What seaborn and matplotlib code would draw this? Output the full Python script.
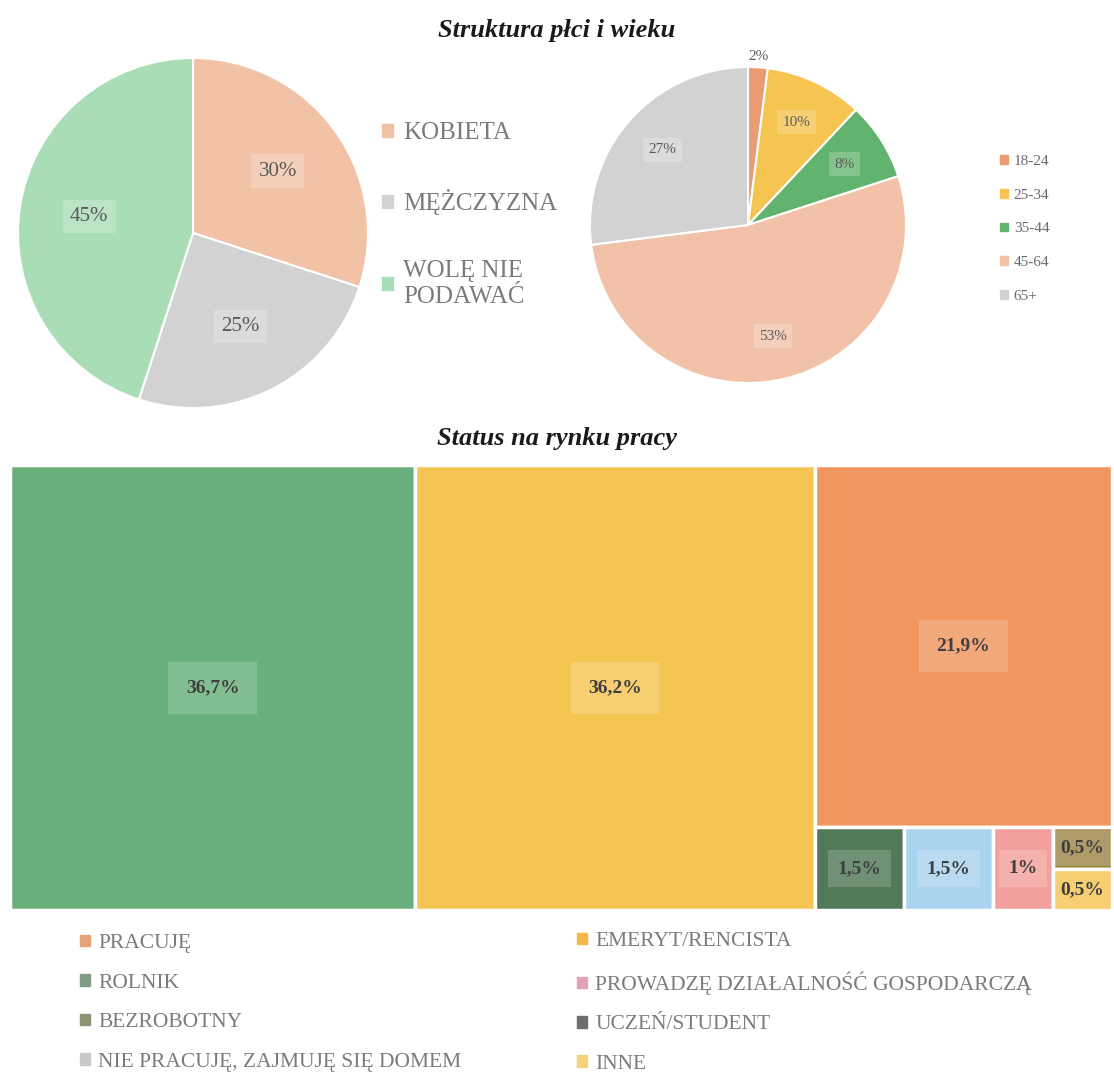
"""
plot.py
Struktura płci i wieku (two pies) + Status na rynku pracy (treemap).
"""

import matplotlib
matplotlib.use('Agg')
import matplotlib.pyplot as plt
from matplotlib.patches import Patch
import seaborn as sns

# --- data ---------------------------------------------------------------
gender_labels = ["KOBIETA", "MĘŻCZYZNA", "WOLĘ NIE\nPODAWAĆ"]
gender_values = [30, 25, 45]
gender_colors = ["#F2C2A6", "#D2D2D2", "#A9DDB6"]

age_labels = ["18-24", "25-34", "35-44", "45-64", "65+"]
age_values = [2, 10, 8, 53, 27]
age_colors = ["#EC9A72", "#F6C450", "#62B36E", "#F1C2A8", "#D2D2D2"]

status_values = [36.7, 36.2, 21.9, 1.5, 1.5, 1, 0.5, 0.5]
status_text = ["36,7%", "36,2%", "21,9%", "1,5%", "1,5%", "1%", "0,5%", "0,5%"]
status_colors = ["#68B07B", "#F6C453", "#F1965F", "#527A5A",
                 "#AAD3EF", "#F2A09C", "#9C8747", "#F6C453"]

legend_col1 = ["PRACUJĘ", "ROLNIK", "BEZROBOTNY", "NIE PRACUJĘ, ZAJMUJĘ SIĘ DOMEM"]
legend_col1_colors = ["#E3A47A", "#7E9C84", "#8C9274", "#C9C9C9"]
legend_col2 = ["EMERYT/RENCISTA", "PROWADZĘ DZIAŁALNOŚĆ GOSPODARCZĄ",
               "UCZEŃ/STUDENT", "INNE"]
legend_col2_colors = ["#F3B845", "#E2A2B9", "#6E6E6E", "#F2D27A"]

# --- style --------------------------------------------------------------
sns.set_theme(style="white")
plt.rcParams['font.family'] = ['Liberation Serif', 'DejaVu Serif']

W, H = 1114, 1076
fig = plt.figure(figsize=(W / 100, H / 100), dpi=100)
fig.patch.set_facecolor("white")


def px_axes(x0, y0, x1, y1):
    return fig.add_axes([x0 / W, 1 - y1 / H, (x1 - x0) / W, (y1 - y0) / H])


def fx(x):
    return x / W


def fy(y):
    return 1 - y / H


TEXT_GRAY = "#7b7b7b"
LABEL_BOX = dict(facecolor="white", alpha=0.22, edgecolor="none", boxstyle="square,pad=0.35")

fig.text(fx(557), fy(30), "Struktura płci i wieku", ha="center", va="center",
         fontsize=19, fontweight="bold", fontstyle="italic", color="#1a1a1a")
fig.text(fx(557), fy(438), "Status na rynku pracy", ha="center", va="center",
         fontsize=19, fontweight="bold", fontstyle="italic", color="#1a1a1a")

# --- gender pie ---------------------------------------------------------
ax1 = px_axes(18, 58, 368, 408)
wedges, _, autotexts = ax1.pie(
    gender_values, colors=gender_colors, startangle=90, counterclock=False,
    autopct="%1.0f%%", pctdistance=0.6,
    wedgeprops=dict(edgecolor="white", linewidth=1.5),
    textprops=dict(fontsize=15, color="#5a5a5a"))
for t, v in zip(autotexts, gender_values):
    t.set_text(f"{v}%")
    t.set_bbox(LABEL_BOX)
ax1.set_xlim(-1, 1)
ax1.set_ylim(-1, 1)

fig.legend([Patch(color=c) for c in gender_colors], gender_labels,
           loc="center left", bbox_to_anchor=(fx(382), fy(215)),
           frameon=False, fontsize=18, labelcolor=TEXT_GRAY,
           handlelength=0.45, handleheight=0.45, handletextpad=0.4,
           labelspacing=1.8, borderpad=0, borderaxespad=0)

# --- age pie ------------------------------------------------------------
ax2 = px_axes(590, 67, 906, 383)
wedges2, _, autotexts2 = ax2.pie(
    age_values, colors=age_colors, startangle=90, counterclock=False,
    autopct="%1.0f%%", pctdistance=0.72,
    wedgeprops=dict(edgecolor="white", linewidth=1.5),
    textprops=dict(fontsize=11, color="#5a5a5a"))
for t, v in zip(autotexts2, age_values):
    t.set_text(f"{v}%")
    t.set_bbox(LABEL_BOX)
# smallest slice label sits just outside the pie
x, y = autotexts2[0].get_position()
autotexts2[0].set_position((x * 1.48, y * 1.48))
autotexts2[0].set_bbox(None)
ax2.set_xlim(-1, 1)
ax2.set_ylim(-1, 1)

fig.legend([Patch(color=c) for c in age_colors], age_labels,
           loc="center left", bbox_to_anchor=(fx(1000), fy(229)),
           frameon=False, fontsize=11, labelcolor="#6a6a6a",
           handlelength=0.5, handleheight=0.5, handletextpad=0.4,
           labelspacing=1.35, borderpad=0, borderaxespad=0)


# --- treemap (squarified layout) ----------------------------------------
def worst(row, w):
    s = sum(row)
    return max(max(w * w * r / (s * s), (s * s) / (w * w * r)) for r in row)


def squarify(areas, x, y, dx, dy):
    rects = []
    areas = list(areas)
    while areas:
        w = min(dx, dy)
        row = [areas.pop(0)]
        while areas and worst(row + [areas[0]], w) <= worst(row, w):
            row.append(areas.pop(0))
        s = sum(row)
        if dx >= dy:          # column on the left
            cw = s / dy
            cy = y
            for r in row:
                rects.append((x, cy, cw, r / cw))
                cy += r / cw
            x += cw
            dx -= cw
        else:                 # row on the top
            rh = s / dx
            cx = x
            for r in row:
                rects.append((cx, y, r / rh, rh))
                cx += r / rh
            y += rh
            dy -= rh
    return rects


TW, TH = 1102.0, 445.0
total = sum(status_values)
areas = [v / total * TW * TH for v in status_values]
rects = squarify(areas, 0, 0, TW, TH)

ax3 = px_axes(10, 465, 10 + TW, 465 + TH)
for (rx, ry, rw, rh), col, txt in zip(rects, status_colors, status_text):
    bars = ax3.bar(rx, rh, width=rw, bottom=ry, align="edge", color=col,
                   edgecolor="white", linewidth=2.5)
    big = rw > 200
    t = ax3.text(rx + rw / 2, ry + rh / 2, txt, ha="center", va="center",
                 fontsize=14, fontweight="bold", color="#3f3f3f",
                 bbox=dict(facecolor="white", alpha=0.18, edgecolor="none",
                           boxstyle="square,pad=%s" % (0.9 if big else 0.5)))
    t.set_clip_path(bars.patches[0])
ax3.set_xlim(0, TW)
ax3.set_ylim(TH, 0)
ax3.axis("off")

# --- treemap legend -----------------------------------------------------
for labels, colors, xpos in [(legend_col1, legend_col1_colors, 80),
                             (legend_col2, legend_col2_colors, 577)]:
    fig.legend([Patch(color=c) for c in colors], labels,
               loc="center left", bbox_to_anchor=(fx(xpos), fy(1003)),
               frameon=False, fontsize=15.5, labelcolor=TEXT_GRAY,
               handlelength=0.45, handleheight=0.45, handletextpad=0.4,
               labelspacing=0.95, borderpad=0, borderaxespad=0)

fig.savefig("out.png", dpi=100)
plt.close(fig)
